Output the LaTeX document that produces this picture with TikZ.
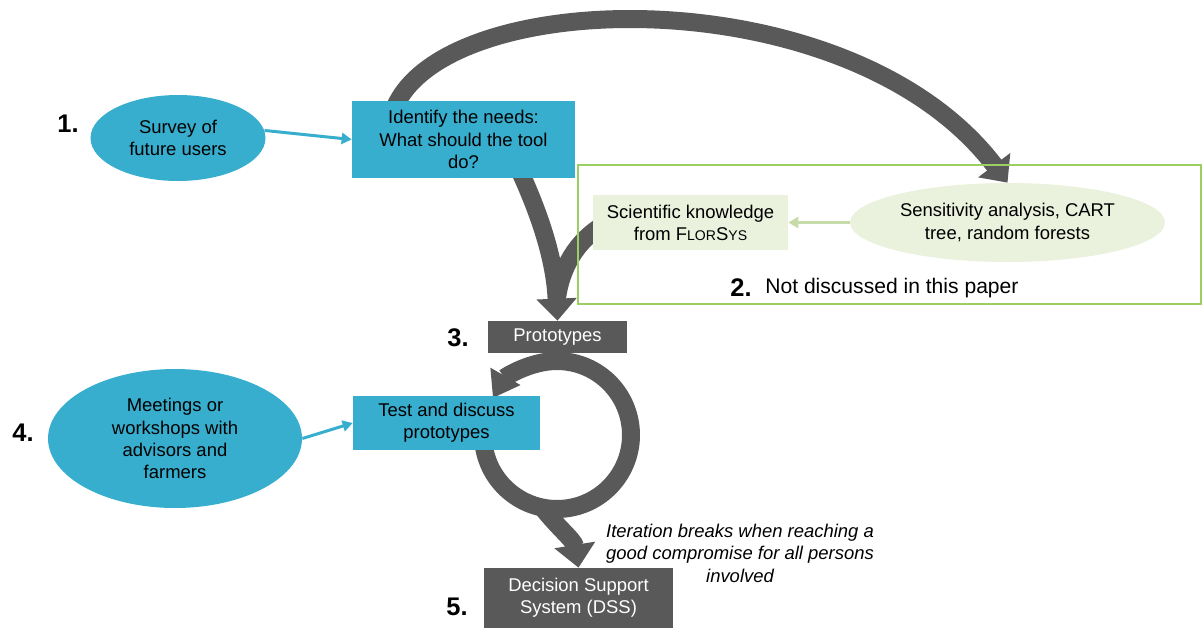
\documentclass[tikz,border=0pt]{standalone}
\usepackage{fontspec}
\setmainfont{Liberation Sans}
\usetikzlibrary{shapes.geometric,arrows.meta,calc}
\pgfdeclarelayer{bg}
\pgfsetlayers{bg,main}
\definecolor{tealc}{HTML}{38AECE}
\definecolor{grayc}{HTML}{595959}
\definecolor{lgreen}{HTML}{EAF1DD}
\definecolor{framegreen}{HTML}{9BCF62}
\definecolor{lgarrow}{HTML}{C6DBA8}
\begin{document}
\begin{tikzpicture}[x=0.02cm,y=-0.02cm,
  base/.style={font=\fontsize{10.5}{12.6}\selectfont, align=center, inner sep=0pt},
  tealbox/.style={base, rectangle, fill=tealc, text=black},
  tealell/.style={base, ellipse, fill=tealc, text=black},
  graybox/.style={base, rectangle, fill=grayc, text=white},
  greenbox/.style={base, rectangle, fill=lgreen},
  num/.style={font=\fontsize{14.5}{16}\selectfont\bfseries, inner sep=0pt},
  bigarrow/.style={draw=grayc, line width=0.36cm, -{Triangle[length=0.44cm,width=0.78cm]}},
  tealarrow/.style={draw=tealc, line width=0.06cm, -{Triangle[length=0.2cm,width=0.22cm]}},
  greenarrow/.style={draw=lgarrow, line width=0.06cm, -{Triangle[length=0.2cm,width=0.22cm]}},
]
\useasboundingbox (0,0) rectangle (1202,630);

% nodes
\node[tealell, minimum width=3.5cm, minimum height=1.72cm] (survey) at (178,138) {Survey of\\future users};
\node[tealbox, minimum width=4.46cm, minimum height=1.54cm] (identify) at (463.5,139.5) {Identify the needs:\\What should the tool\\do?};
\node[greenbox, minimum width=3.9cm, minimum height=1.1cm] (sci) at (690.5,222.5) {Scientific knowledge\\from F{\fontsize{8}{9}\selectfont LOR}S{\fontsize{8}{9}\selectfont YS}};
\node[base, ellipse, fill=lgreen, minimum width=6.3cm, minimum height=1.58cm] (sens) at (1007.5,222.5) {Sensitivity analysis, CART\\tree, random forests};
\node[graybox, minimum width=2.78cm, minimum height=0.64cm] (proto) at (557.5,337) {Prototypes};
\node[tealbox, minimum width=3.74cm, minimum height=1.08cm] (test) at (446.5,423) {Test and discuss\\prototypes};
\node[tealell, minimum width=5.08cm, minimum height=2.78cm] (meet) at (175,438.5) {Meetings or\\workshops with\\advisors and\\farmers};
\node[graybox, minimum width=3.78cm, minimum height=1.2cm] (dss) at (578.5,598) {Decision Support\\System (DSS)};
\node[draw=framegreen, line width=0.8pt, minimum width=12.46cm, minimum height=2.78cm, inner sep=0pt] (frame) at (889.5,234.5) {};

\node[num] (n1) at (68,124) {1.};
\node[num] (n2) at (741,288) {2.};
\node[font=\fontsize{12}{14}\selectfont, inner sep=0pt, anchor=west] (notdisc) at (765,288.5) {Not discussed in this paper};
\node[num] (n3) at (458,338) {3.};
\node[num] (n4) at (23,433) {4.};
\node[num] (n5) at (457,607) {5.};
\node[font=\fontsize{10.5}{12.8}\selectfont\itshape, align=center, inner sep=0pt] (iter) at (740,553) {Iteration breaks when reaching a\\good compromise for all persons\\involved};

\coordinate (loopc) at (557,435);

% connectors
\draw[tealarrow] (survey.5) -- (identify.west);
\draw[tealarrow] (meet.east) -- (test.west);
\draw[greenarrow] (sens.west) -- (sci.east);

\begin{pgfonlayer}{bg}
\draw[bigarrow] ($(identify.north)+(-70,10)$) .. controls (440,-15) and (850,-25) .. (sens.north);
\draw[grayc, line width=0.36cm] ($(sci.west)+(8,4)$) .. controls (572,245) and (558,275) .. (556,308);
\draw[bigarrow] ($(identify.south)+(56,-8)$) .. controls (540,215) and (555,260) .. (proto.north);
\draw[draw=grayc, line width=0.36cm, -{Triangle[length=0.5cm,width=0.66cm]}] ([shift={(185:1.48cm)}]loopc) arc[start angle=185, end angle=510, radius=1.48cm];
\draw[draw=grayc, line width=0.36cm, -{Triangle[length=0.46cm,width=0.8cm]}] ([shift={(-103:1.45cm)}]loopc) .. controls (558,528) and (574,540) .. (dss.north);
\end{pgfonlayer}
\end{tikzpicture}
\end{document}
